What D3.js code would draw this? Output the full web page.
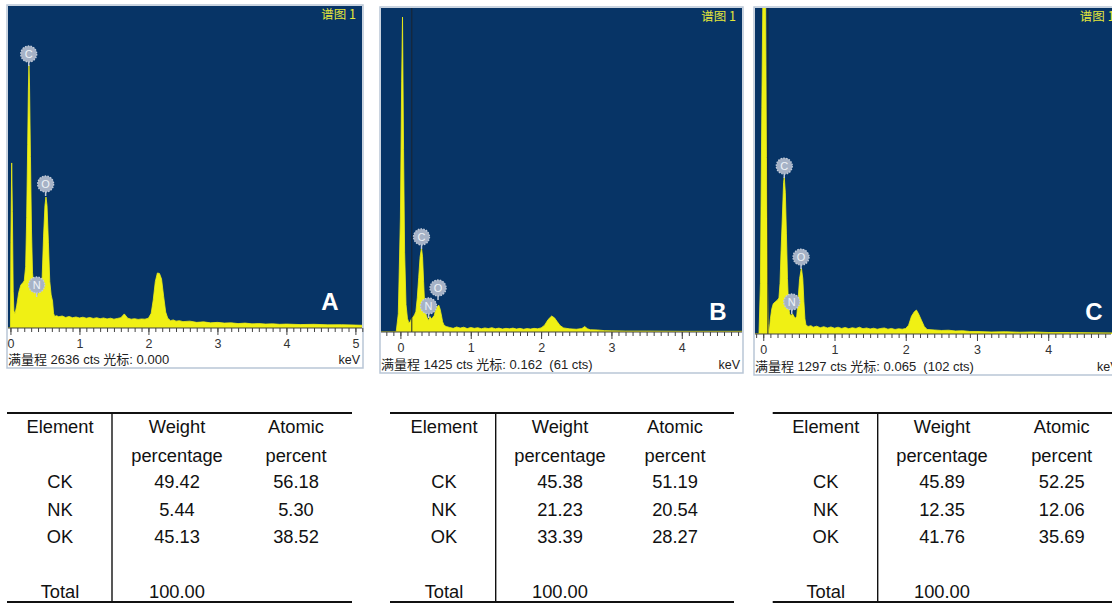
<!DOCTYPE html>
<html><head><meta charset="utf-8">
<script src="https://cdn.jsdelivr.net/npm/d3@7"></script>
<style>
html,body{margin:0;padding:0;background:#fff;}
svg{display:block;}
</style></head>
<body>
<svg id="fig" width="1112" height="604"></svg>
<script>
// ---------------- DATA ----------------
// EDS spectra: [energy keV, counts]
const spectrumA = [[-0.05,0],[0.0,0],[0.006,700],[0.018,1347],[0.028,950],[0.04,300],[0.05,140],[0.065,115],[0.09,180],[0.12,290],[0.15,350],[0.18,370],[0.2,385],[0.22,500],[0.235,900],[0.25,1500],[0.26,1950],[0.268,2146],[0.276,2000],[0.29,1400],[0.305,800],[0.32,450],[0.34,330],[0.36,300],[0.38,285],[0.39,255],[0.40,285],[0.42,295],[0.44,310],[0.46,420],[0.48,750],[0.50,1000],[0.515,1069],[0.53,1000],[0.55,700],[0.57,380],[0.59,270],[0.61,220],[0.625,120],[0.64,95],[0.67,100],[0.7,92],[0.75,98],[0.8,86],[0.85,94],[0.9,84],[0.95,90],[1.0,82],[1.05,88],[1.1,80],[1.15,86],[1.2,78],[1.25,84],[1.3,76],[1.35,82],[1.4,74],[1.45,80],[1.5,72],[1.55,78],[1.6,84],[1.65,115],[1.7,80],[1.75,72],[1.8,76],[1.85,70],[1.9,74],[1.95,72],[2.0,80],[2.04,120],[2.07,230],[2.1,380],[2.13,449],[2.16,445],[2.19,400],[2.22,260],[2.25,130],[2.28,80],[2.32,60],[2.36,66],[2.4,56],[2.45,60],[2.5,52],[2.6,56],[2.7,46],[2.8,50],[2.9,42],[3.0,46],[3.1,40],[3.2,42],[3.3,36],[3.4,40],[3.5,34],[3.6,36],[3.7,32],[3.8,34],[3.9,30],[4.0,32],[4.2,28],[4.4,30],[4.6,26],[4.8,27],[5.0,24],[5.11,22]];
const spectrumB = [[-0.29,0],[-0.06,0],[-0.03,80],[0.0,500],[0.018,1100],[0.03,1381],[0.045,800],[0.06,350],[0.08,120],[0.1,60],[0.12,40],[0.14,45],[0.16,60],[0.18,66],[0.2,75],[0.22,90],[0.24,150],[0.26,240],[0.28,330],[0.30,368],[0.315,330],[0.33,220],[0.345,120],[0.36,80],[0.38,62],[0.40,50],[0.42,68],[0.44,58],[0.46,64],[0.48,72],[0.5,95],[0.52,110],[0.545,118],[0.565,100],[0.585,70],[0.6,45],[0.62,30],[0.65,24],[0.7,20],[0.75,16],[0.8,22],[0.85,17],[0.9,21],[0.95,15],[1.0,20],[1.05,16],[1.1,19],[1.15,14],[1.2,18],[1.25,15],[1.3,19],[1.35,14],[1.4,17],[1.45,13],[1.5,16],[1.55,14],[1.6,17],[1.65,13],[1.7,16],[1.75,12],[1.8,15],[1.85,13],[1.9,16],[1.95,14],[2.0,18],[2.05,30],[2.1,55],[2.15,70],[2.19,62],[2.23,45],[2.27,28],[2.32,18],[2.4,14],[2.5,12],[2.58,15],[2.62,24],[2.66,14],[2.7,10],[2.8,9],[2.9,6],[3.0,5],[3.2,4],[3.5,4],[4.0,3],[4.5,3],[4.87,3]];
const spectrumC = [[-0.13,0],[-0.06,0],[-0.04,200],[-0.02,900],[0.0,1500],[0.015,1700],[0.03,1500],[0.045,700],[0.06,200],[0.07,40],[0.085,10],[0.1,60],[0.12,100],[0.14,120],[0.17,128],[0.2,135],[0.22,143],[0.235,200],[0.25,330],[0.27,480],[0.285,600],[0.295,623],[0.31,560],[0.325,400],[0.34,220],[0.355,110],[0.37,80],[0.39,72],[0.41,80],[0.43,70],[0.45,62],[0.47,70],[0.49,140],[0.51,220],[0.535,262],[0.555,220],[0.57,130],[0.585,60],[0.6,35],[0.63,30],[0.67,33],[0.7,27],[0.75,31],[0.8,25],[0.85,29],[0.9,24],[0.95,28],[1.0,23],[1.05,27],[1.1,22],[1.15,26],[1.2,21],[1.25,25],[1.3,22],[1.35,27],[1.4,21],[1.45,24],[1.5,20],[1.55,23],[1.6,19],[1.65,22],[1.7,24],[1.75,19],[1.8,22],[1.85,18],[1.9,21],[1.95,19],[2.0,22],[2.04,35],[2.08,70],[2.12,88],[2.15,95],[2.18,80],[2.22,55],[2.26,30],[2.3,18],[2.4,16],[2.5,14],[2.6,15],[2.7,12],[2.8,13],[2.9,10],[3.0,10],[3.2,8],[3.4,9],[3.6,7],[3.8,8],[4.0,6],[4.3,6],[4.6,5],[5.03,4]];

const fullScaleCts = [2636, 1425, 1297];
const cursorKeV = [0.000, 0.162, 0.065];
const cursorCts = [null, 61, 102];
const panelLetters = ["A", "B", "C"];
const spectrumTitle = "谱图 1";
const majorTicks = [0, 1, 2, 3, 4, 5];

const peakElements = ["C", "N", "O"];
const peakKeVA = [0.265, 0.38, 0.51], peakCtsA = [2236, 351, 1175];
const peakKeVB = [0.30, 0.40, 0.535], peakCtsB = [417, 114, 193];
const peakKeVC = [0.295, 0.40, 0.53], peakCtsC = [666, 127, 305];

const tableHeader1 = ["Element", "Weight", "Atomic"];
const tableHeader2 = ["", "percentage", "percent"];
const tableElements = ["CK", "NK", "OK"];
const weightA = [49.42, 5.44, 45.13], atomicA = [56.18, 5.30, 38.52];
const weightB = [45.38, 21.23, 33.39], atomicB = [51.19, 20.54, 28.27];
const weightC = [45.89, 12.35, 41.76], atomicC = [52.25, 12.06, 35.69];
const totalLabel = "Total", totalWeight = 100.00;

// ---------------- LAYOUT ----------------
const FIG_W = 1112;
const panels = [
  {spec: spectrumA, x0: 7,   x1: 363,    top: 5, axisY: 328, bottom: 368, domain: [-0.05, 5.11], letterDx: 33, letterDy: 18, peaksE: peakKeVA, peaksC: peakCtsA},
  {spec: spectrumB, x0: 380, x1: 743,    top: 7, axisY: 332, bottom: 373, domain: [-0.29, 4.87], letterDx: 25, letterDy: 12, peaksE: peakKeVB, peaksC: peakCtsB},
  {spec: spectrumC, x0: 754, x1: 1121.6, top: 7, axisY: 334, bottom: 375, domain: [-0.13, 5.03], letterDx: 27.6, letterDy: 14, peaksE: peakKeVC, peaksC: peakCtsC}
];
const tables = [
  {x0: 7,     x1: 352,  vx: 112,   cols: [60, 177, 296],     w: weightA, a: atomicA},
  {x0: 390,   x1: 734,  vx: 495.7, cols: [444, 560, 675],    w: weightB, a: atomicB},
  {x0: 772.7, x1: 1114, vx: 877.7, cols: [825.7, 942, 1061.7], w: weightC, a: atomicC}
];

const BLUE = "#073466", YELLOW = "#f0f014";
const svg = d3.select("#fig");
svg.append("rect").attr("width", 1112).attr("height", 604).attr("fill", "#fff");

panels.forEach((p, i) => {
  const g = svg.append("g");
  const x = d3.scaleLinear().domain(p.domain).range([p.x0, p.x1]);
  const y = d3.scaleLinear().domain([0, fullScaleCts[i]]).range([p.axisY, p.top]);

  // outer frame
  g.append("rect").attr("x", p.x0).attr("y", p.top).attr("width", p.x1 - p.x0).attr("height", p.bottom - p.top)
    .attr("fill", "#fff").attr("stroke", "#b9c6d6").attr("stroke-width", 1.5);
  // plot background
  g.append("rect").attr("x", p.x0 + 1).attr("y", p.top + 1).attr("width", p.x1 - p.x0 - 2).attr("height", p.axisY - p.top - 1)
    .attr("fill", BLUE);

  const clipId = "clip" + i;
  g.append("clipPath").attr("id", clipId).append("rect")
    .attr("x", p.x0 + 1).attr("y", p.top + 1).attr("width", p.x1 - p.x0 - 2).attr("height", p.axisY - p.top - 1);

  const area = d3.area().x(d => x(d[0])).y0(p.axisY).y1(d => y(d[1]));
  g.append("path").datum(p.spec).attr("d", area).attr("fill", YELLOW)
    .attr("stroke", YELLOW).attr("stroke-width", 0.8).attr("clip-path", `url(#${clipId})`);

  // cursor line
  if (cursorKeV[i] > 0) {
    g.append("line").attr("x1", x(cursorKeV[i])).attr("x2", x(cursorKeV[i]))
      .attr("y1", p.top + 1).attr("y2", p.axisY).attr("stroke", "#1b2430").attr("stroke-width", 1);
  }

  // spectrum title
  g.append("text").attr("x", p.x1 - 7).attr("y", p.top + 14).attr("text-anchor", "end")
    .attr("font-family", "'Noto Sans CJK SC', 'Liberation Sans', sans-serif").attr("font-size", 12.5)
    .attr("fill", "#e4e63a").text(spectrumTitle);

  // panel letter
  g.append("text").attr("x", p.x1 - p.letterDx).attr("y", p.axisY - p.letterDy).attr("text-anchor", "middle")
    .attr("font-family", "'Liberation Sans', Arial, sans-serif").attr("font-weight", "bold").attr("font-size", 24)
    .attr("fill", "#fff").text(panelLetters[i]);

  // element labels
  peakElements.forEach((el, k) => {
    const cx = x(p.peaksE[k]), cy = y(p.peaksC[k]);
    const lg = g.append("g").attr("clip-path", `url(#${clipId})`);
    lg.append("line").attr("x1", cx).attr("x2", cx).attr("y1", cy + 7).attr("y2", cy + 12)
      .attr("stroke", "#c3ccda").attr("stroke-width", 1.5);
    lg.append("circle").attr("cx", cx).attr("cy", cy).attr("r", 8)
      .attr("fill", "#a6b2c6").attr("stroke", "#c2cbd9").attr("stroke-width", 1.3).attr("stroke-dasharray", "1.6,1.2");
    lg.append("text").attr("x", cx).attr("y", cy + 4).attr("text-anchor", "middle")
      .attr("font-family", "'Liberation Sans', Arial, sans-serif").attr("font-size", 11)
      .attr("fill", "#eef2f8").text(el);
  });

  // axis line
  g.append("line").attr("x1", p.x0 + 1).attr("x2", Math.min(p.x1, FIG_W) - 1).attr("y1", p.axisY).attr("y2", p.axisY)
    .attr("stroke", "#444").attr("stroke-width", 1.2);

  // minor ticks
  const lo = Math.ceil(p.domain[0] * 10), hi = Math.floor(p.domain[1] * 10);
  const minor = d3.range(lo, hi + 1).map(v => v / 10);
  const minorAxis = d3.axisBottom(x).tickValues(minor).tickSize(4).tickFormat("");
  const ma = g.append("g").attr("transform", `translate(0,${p.axisY})`).call(minorAxis);
  ma.select(".domain").remove();
  ma.selectAll("line").attr("stroke", "#444");

  const majors = majorTicks.filter(t => t >= p.domain[0] && t <= p.domain[1] && x(t) < FIG_W - 8);
  const majorAxis = d3.axisBottom(x).tickValues(majors).tickSize(7).tickPadding(4).tickFormat(d3.format("d"));
  const mj = g.append("g").attr("transform", `translate(0,${p.axisY})`).call(majorAxis);
  mj.select(".domain").remove();
  mj.selectAll("line").attr("stroke", "#444");
  mj.selectAll("text").attr("font-family", "'Liberation Sans', Arial, sans-serif").attr("font-size", 12.5).attr("fill", "#333");

  // bottom status text
  let status = `满量程 ${fullScaleCts[i]} cts 光标: ${cursorKeV[i].toFixed(3)}`;
  if (cursorCts[i] !== null) status += `  (${cursorCts[i]} cts)`;
  g.append("text").attr("x", p.x0 + 1).attr("y", p.bottom - 4.5)
    .attr("font-family", "'Liberation Sans', 'Noto Sans CJK SC', sans-serif").attr("font-size", 13)
    .attr("fill", "#222").attr("xml:space", "preserve").style("white-space", "pre").text(status);
  g.append("text").attr("x", p.x1 - 3).attr("y", p.bottom - 4.5).attr("text-anchor", "end")
    .attr("font-family", "'Liberation Sans', Arial, sans-serif").attr("font-size", 12.5)
    .attr("fill", "#222").text("keV");
});

// ---------------- TABLES ----------------
const rowBase = {h1: 433.3, h2: 461.5, r: [488.3, 515.8, 543.3], total: 597.8};
tables.forEach(t => {
  const g = svg.append("g").attr("font-family", "'Liberation Sans', Arial, sans-serif")
    .attr("font-size", 18.3).attr("fill", "#111").attr("text-anchor", "middle");
  g.append("line").attr("x1", t.x0).attr("x2", t.x1).attr("y1", 413).attr("y2", 413).attr("stroke", "#111").attr("stroke-width", 2.2);
  g.append("line").attr("x1", t.x0).attr("x2", t.x1).attr("y1", 602).attr("y2", 602).attr("stroke", "#111").attr("stroke-width", 2);
  g.append("line").attr("x1", t.vx).attr("x2", t.vx).attr("y1", 413).attr("y2", 602).attr("stroke", "#111").attr("stroke-width", 1.4);
  tableHeader1.forEach((h, c) => g.append("text").attr("x", t.cols[c]).attr("y", rowBase.h1).text(h));
  tableHeader2.forEach((h, c) => { if (h) g.append("text").attr("x", t.cols[c]).attr("y", rowBase.h2).text(h); });
  tableElements.forEach((el, r) => {
    g.append("text").attr("x", t.cols[0]).attr("y", rowBase.r[r]).text(el);
    g.append("text").attr("x", t.cols[1]).attr("y", rowBase.r[r]).text(t.w[r].toFixed(2));
    g.append("text").attr("x", t.cols[2]).attr("y", rowBase.r[r]).text(t.a[r].toFixed(2));
  });
  g.append("text").attr("x", t.cols[0]).attr("y", rowBase.total).text(totalLabel);
  g.append("text").attr("x", t.cols[1]).attr("y", rowBase.total).text(totalWeight.toFixed(2));
});
</script>
</body></html>
